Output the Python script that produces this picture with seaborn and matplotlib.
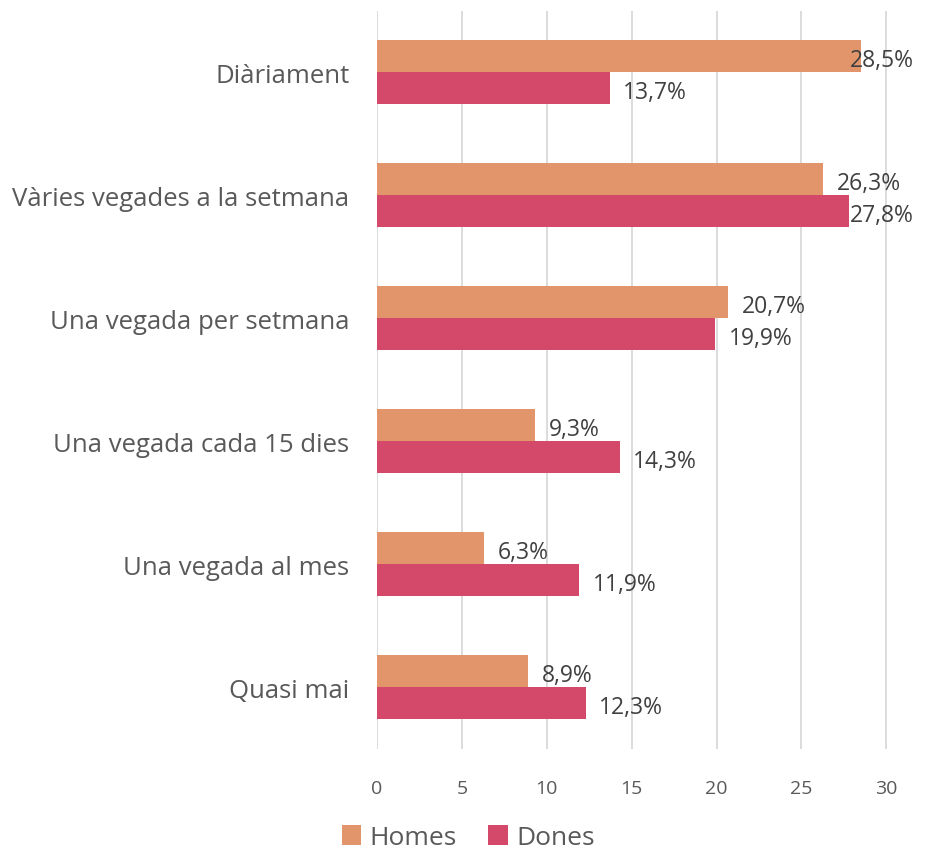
import matplotlib
matplotlib.use("Agg")
import matplotlib.pyplot as plt
import seaborn as sns
import pandas as pd

categories = [
    "Diàriament",
    "Vàries vegades a la setmana",
    "Una vegada per setmana",
    "Una vegada cada 15 dies",
    "Una vegada al mes",
    "Quasi mai",
]
homes = [28.5, 26.3, 20.7, 9.3, 6.3, 8.9]
dones = [13.7, 27.8, 19.9, 14.3, 11.9, 12.3]
series = ["Homes", "Dones"]
colors = ["#E2956B", "#D4486A"]
xticks = [0, 5, 10, 15, 20, 25, 30]

df = pd.DataFrame({
    "categoria": categories * 2,
    "valor": homes + dones,
    "sexe": [series[0]] * len(categories) + [series[1]] * len(categories),
})

sns.set_theme(style="white")
plt.rcParams["font.family"] = ["Open Sans", "DejaVu Sans"]

fig = plt.figure(figsize=(9.25, 8.54), dpi=100)
ax = fig.add_axes([0.4076, 0.122, 0.5524, 0.864])

sns.barplot(
    data=df, y="categoria", x="valor", hue="sexe", order=categories,
    hue_order=series, palette=colors, orient="h", width=0.52,
    saturation=1, dodge=True, ax=ax, legend=True, linewidth=0,
)

ax.set_xlim(0, 30.1)
ax.set_ylim(len(categories) - 0.5, -0.5)
ax.set_xticks(xticks)
ax.set_xticklabels([str(t) for t in xticks], color="#595959", fontsize=14)
ax.tick_params(axis="x", length=0, pad=22)
ax.tick_params(axis="y", length=0, pad=20, labelsize=18.5, labelcolor="#595959")
ax.set_xlabel("")
ax.set_ylabel("")
ax.grid(axis="x", color="#D9D9D9", linewidth=1.3)
ax.set_axisbelow(True)
for s in ax.spines.values():
    s.set_visible(False)

# value labels, kept inside the chart on the right side
for container, vals in zip(ax.containers, [homes, dones]):
    for bar, v in zip(container, vals):
        yc = bar.get_y() + bar.get_height() / 2 + 0.03
        xl = min(v + 0.8, 27.85)
        ax.text(xl, yc, f"{v:.1f}%".replace(".", ","), va="center", ha="left",
                fontsize=16.5, color="#404040")

handles, labels = ax.get_legend_handles_labels()
ax.legend_.remove()
fig.legend(handles, labels, loc="center", bbox_to_anchor=(0.506, 0.018),
           ncol=2, frameon=False, fontsize=19, handlelength=0.75,
           handleheight=0.75, handletextpad=0.3, columnspacing=1.2,
           labelcolor="#595959")

fig.savefig("out.png", dpi=100, facecolor="white")
